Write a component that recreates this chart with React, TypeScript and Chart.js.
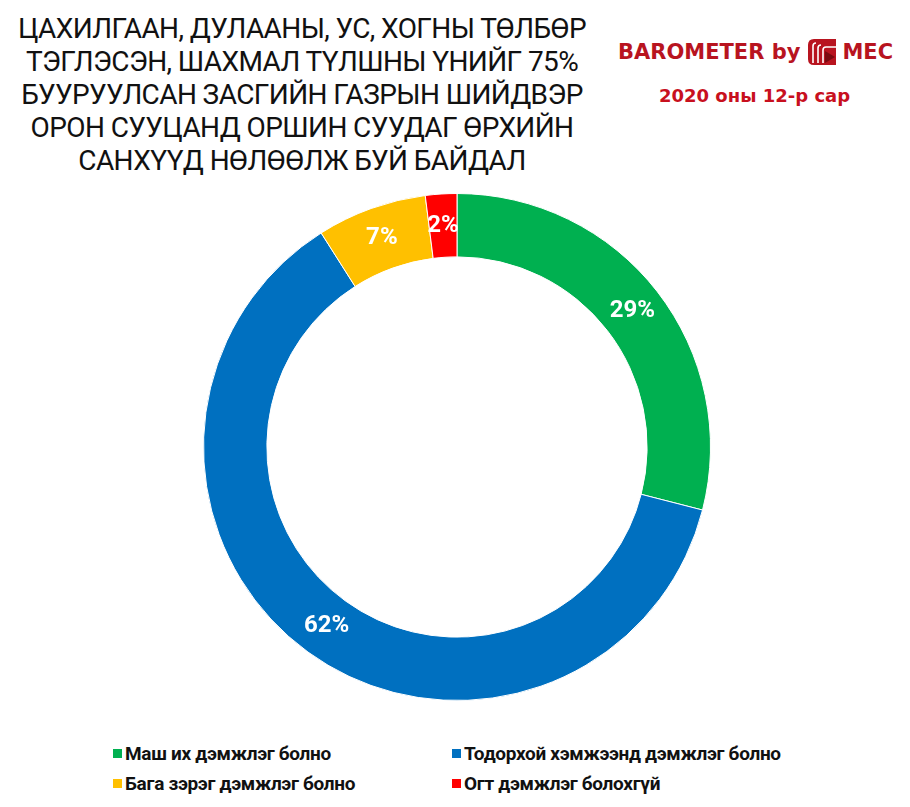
import React, { useEffect, useRef } from "react";
import { Chart, registerables } from "chart.js";

Chart.register(...registerables);

const titleLines = [
  "ЦАХИЛГААН, ДУЛААНЫ, УС, ХОГНЫ ТӨЛБӨР",
  "ТЭГЛЭСЭН, ШАХМАЛ ТҮЛШНЫ ҮНИЙГ 75%",
  "БУУРУУЛСАН ЗАСГИЙН ГАЗРЫН ШИЙДВЭР",
  "ОРОН СУУЦАНД ОРШИН СУУДАГ ӨРХИЙН",
  "САНХҮҮД НӨЛӨӨЛЖ БУЙ БАЙДАЛ",
];
const categories = [
  "Маш их дэмжлэг болно",
  "Тодорхой хэмжээнд дэмжлэг болно",
  "Бага зэрэг дэмжлэг болно",
  "Огт дэмжлэг болохгүй",
];
const values = [29, 62, 7, 2];
const colors = ["#00B050", "#0070C0", "#FFC000", "#FF0000"];

const labelPlugin = {
  id: "sliceLabels",
  afterDatasetsDraw(chart: any) {
    const ctx = chart.ctx;
    const meta = chart.getDatasetMeta(0);
    ctx.save();
    ctx.fillStyle = "#ffffff";
    ctx.font = "bold 24px Roboto";
    ctx.textAlign = "center";
    ctx.textBaseline = "middle";
    meta.data.forEach((arc: any, i: number) => {
      const p = arc.getCenterPoint();
      ctx.fillText(values[i] + "%", p.x, p.y);
    });
    ctx.restore();
  },
};

export default function App() {
  const ref = useRef<HTMLCanvasElement | null>(null);
  useEffect(() => {
    if (!ref.current) return;
    const chart = new Chart(ref.current, {
      type: "doughnut",
      data: {
        labels: categories,
        datasets: [
          {
            data: values,
            backgroundColor: colors,
            borderColor: "#ffffff",
            borderWidth: 1,
          },
        ],
      },
      options: {
        animation: false,
        responsive: true,
        maintainAspectRatio: false,
        cutout: "75%",
        layout: { padding: 5 },
        plugins: {
          legend: { display: false },
          tooltip: { enabled: false },
        },
      },
      plugins: [labelPlugin],
    });
    return () => chart.destroy();
  }, []);

  const legendPos = [
    { left: 113, top: 742 },
    { left: 452, top: 742 },
    { left: 113, top: 772 },
    { left: 452, top: 772 },
  ];

  return (
    <div
      style={{
        position: "fixed",
        left: 0,
        top: 0,
        width: 910,
        height: 807,
        background: "#ffffff",
        overflow: "hidden",
      }}
    >
      <div
        style={{
          position: "absolute",
          left: 0,
          top: 12,
          width: 604,
          textAlign: "center",
          fontFamily: "Roboto",
          fontSize: 28,
          lineHeight: "33px",
          color: "#111111",
          letterSpacing: -0.6,
          whiteSpace: "nowrap",
        }}
      >
        {titleLines.map((l, i) => (
          <div key={i}>{l}</div>
        ))}
      </div>
      <div
        style={{
          position: "absolute",
          left: 618,
          top: 37,
          fontFamily: "DejaVu Sans",
          fontWeight: "bold",
          fontSize: 21,
          color: "#B8141F",
          whiteSpace: "nowrap",
          display: "flex",
          alignItems: "center",
        }}
      >
        <span>BAROMETER by</span>
        <svg width="32" height="30" viewBox="0 0 32 30" style={{ marginLeft: 6, marginRight: 4 }}>
          <path d="M2 8 Q2 2 8 2 L30 2 L30 28 L8 28 Q2 28 2 22 Z" fill="#B8141F" />
          <path d="M7 26 L7 9 Q7 6 10 6" stroke="#fff" strokeWidth="1.6" fill="none" />
          <path d="M12 26 L12 11 Q12 8 15 8" stroke="#fff" strokeWidth="1.6" fill="none" />
          <path d="M17 26 L17 13 Q17 10 20 10 L30 10" stroke="#fff" strokeWidth="1.6" fill="none" />
          <path d="M19 14 L29 20 L19 26 Z" fill="#7a0a10" />
        </svg>
        <span>MEC</span>
      </div>
      <div
        style={{
          position: "absolute",
          left: 659,
          top: 85,
          fontFamily: "DejaVu Sans",
          fontWeight: "bold",
          fontSize: 18,
          color: "#C8101E",
          whiteSpace: "nowrap",
        }}
      >
        2020 оны 12-р сар
      </div>
      <div
        style={{
          position: "absolute",
          left: 198,
          top: 188,
          width: 518,
          height: 518,
        }}
      >
        <canvas ref={ref} />
      </div>
      {categories.map((c, i) => (
        <div
          key={i}
          style={{
            position: "absolute",
            left: legendPos[i].left,
            top: legendPos[i].top,
            display: "flex",
            alignItems: "center",
            fontFamily: "Roboto",
            fontWeight: "bold",
            fontSize: 19,
            letterSpacing: -0.3,
            color: "#111",
            whiteSpace: "nowrap",
            height: 22,
          }}
        >
          <span
            style={{
              display: "inline-block",
              width: 9,
              height: 9,
              background: colors[i],
              marginRight: 3,
            }}
          />
          <span>{c}</span>
        </div>
      ))}
    </div>
  );
}
